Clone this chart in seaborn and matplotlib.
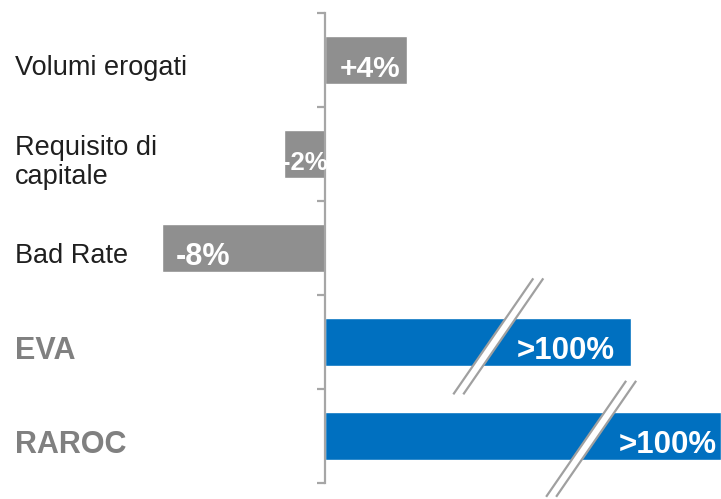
import matplotlib
matplotlib.use("Agg")
import matplotlib.pyplot as plt
import seaborn as sns
import pandas as pd
import numpy as np

# ---- data ----
categories = ["Volumi erogati", "Requisito di\ncapitale", "Bad Rate", "EVA", "RAROC"]
values = [4.0, -2.0, -8.0, 15.0, 19.4]          # displayed bar lengths (%); EVA/RAROC truncated
value_labels = ["+4%", "-2%", "-8%", ">100%", ">100%"]
bar_colors = ["#8f8f8f", "#8f8f8f", "#8f8f8f", "#0070c0", "#0070c0"]
break_at = [None, None, None, 8.25, 12.8]        # where the axis-break marks sit

sns.set_theme(style="white")
plt.rcParams["font.family"] = ["Liberation Sans", "DejaVu Sans"]

W, H = 721, 499
fig = plt.figure(figsize=(W / 100, H / 100), dpi=100)
ax = fig.add_axes([0, (H - 483) / H, 1, (483 - 13) / H])

df = pd.DataFrame({"cat": categories, "val": values})
sns.barplot(data=df, y="cat", x="val", hue="cat", palette=bar_colors,
            orient="h", width=0.51, legend=False, ax=ax, saturation=1)

px_per_unit = 20.4
ax.set_xlim(-325 / px_per_unit, (W - 325) / px_per_unit)
ax.set_ylim(4.5, -0.5)

for s in ["top", "right", "bottom"]:
    ax.spines[s].set_visible(False)
ax.spines["left"].set_position(("data", 0))
ax.spines["left"].set_color("#a6a6a6")
ax.spines["left"].set_linewidth(1.6)
ax.set_xticks([])
ax.set_yticks(np.arange(-0.5, 4.6, 1.0))
ax.set_yticklabels([])
ax.tick_params(axis="y", direction="out", length=6, width=1.6, color="#a6a6a6", left=True)
ax.set_xlabel("")
ax.set_ylabel("")

# category labels
trans = matplotlib.transforms.blended_transform_factory(fig.transFigure, ax.transData)
for i, c in enumerate(categories):
    if i >= 3:
        ax.text(15 / W, i + 0.1, c, transform=trans, ha="left", va="center",
                fontsize=22, fontweight="bold", color="#808080")
    else:
        ax.text(15 / W, i + 0.09, c, transform=trans, ha="left", va="center",
                fontsize=19.5, color="#1f1f1f", linespacing=1.15)

# value labels (placed relative to bar ends)
label_sizes = [21.5, 18.5, 22, 22.5, 22.5]
for i, (v, lab) in enumerate(zip(values, value_labels)):
    if i == 0:
        x = v / 2 + 0.2
    elif i == 1:
        x = v / 2
    elif i == 2:
        x = v + 2.0
    elif i == 3:
        x = v - 3.2
    else:
        x = v - 2.6
    ax.text(x, i + 0.1, lab, ha="center", va="center", color="white",
            fontsize=label_sizes[i], fontweight="bold", zorder=5)

# break marks
half_dx = 40 / px_per_unit
half_dy = 58 / 94
gap = 10 / px_per_unit
y_shift = [0, 0, 0, -0.06, 0.03]
for i, b in enumerate(break_at):
    if b is None:
        continue
    yc = i + y_shift[i]
    x1a, y1a = b - half_dx, yc + half_dy
    x1b, y1b = b + half_dx, yc - half_dy
    poly = plt.Polygon([[x1a, y1a], [x1b, y1b], [x1b + gap, y1b], [x1a + gap, y1a]],
                       closed=True, facecolor="white", edgecolor="none", zorder=6, clip_on=False)
    ax.add_patch(poly)
    for off in (0, gap):
        ax.plot([x1a + off, x1b + off], [y1a, y1b], color="#a0a0a0", lw=1.6,
                zorder=7, clip_on=False, solid_capstyle="butt")

fig.savefig("out.png", dpi=100)
